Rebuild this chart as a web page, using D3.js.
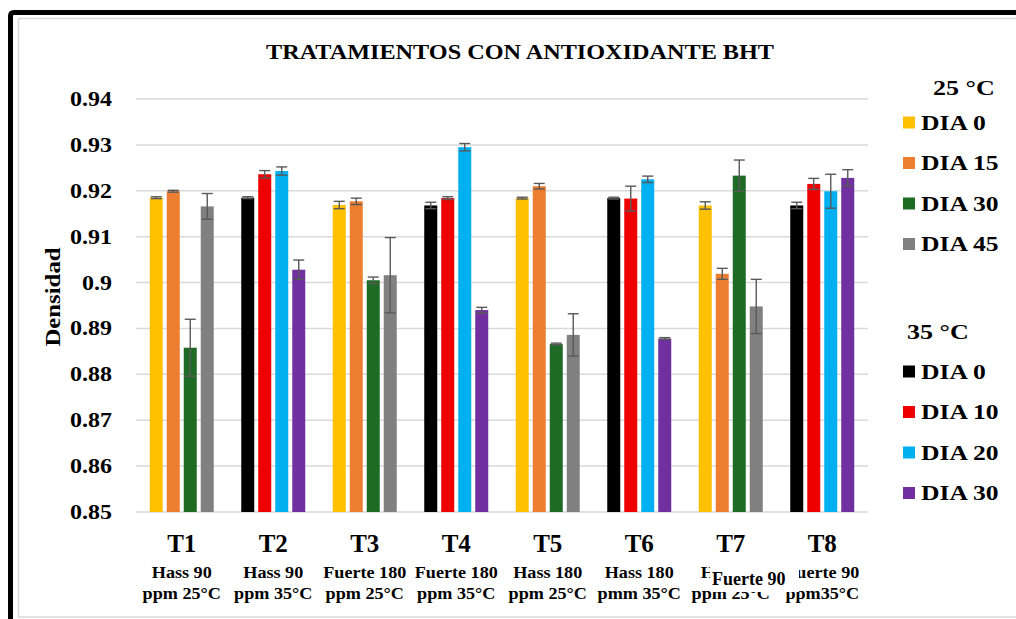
<!DOCTYPE html>
<html>
<head>
<meta charset="utf-8">
<script src="https://cdn.jsdelivr.net/npm/d3@7"></script>
<style>
  body { margin: 0; background: #fff; }
  svg text { font-family: "Liberation Serif", "Times New Roman", serif; font-weight: bold; fill: #000; }
</style>
</head>
<body>
<svg id="viz" width="1016" height="619"></svg>
<script>
// data
var categories = ["T1", "T2", "T3", "T4", "T5", "T6", "T7", "T8"];
var subLine1 = ["Hass 90", "Hass 90", "Fuerte 180", "Fuerte 180", "Hass 180", "Hass 180", "Hass 90", "Fuerte 90"];
var subLine2 = ["ppm 25\u00B0C", "ppm 35\u00B0C", "ppm 25\u00B0C", "ppm 35\u00B0C", "ppm 25\u00B0C", "pmm 35\u00B0C", "ppm 25\u00B0C", "ppm35\u00B0C"];
var temps = ["25", "35", "25", "35", "25", "35", "25", "35"];

var values = [
  [0.9185, 0.9199, 0.8858, 0.9166],
  [0.9185, 0.9236, 0.9243, 0.9028],
  [0.9169, 0.9177, 0.9005, 0.9016],
  [0.9168, 0.9184, 0.9295, 0.8940],
  [0.9184, 0.9210, 0.8866, 0.8886],
  [0.9184, 0.9183, 0.9225, 0.8878],
  [0.9168, 0.9019, 0.9233, 0.8948],
  [0.9168, 0.9215, 0.9199, 0.9228]
];
var errors = [
  [0.0002, 0.0002, 0.0062, 0.0028],
  [0.0002, 0.0008, 0.0009, 0.0021],
  [0.0008, 0.0007, 0.0007, 0.0082],
  [0.0007, 0.0003, 0.0008, 0.0006],
  [0.0002, 0.0006, 0.0002, 0.0046],
  [0.0002, 0.0027, 0.0007, 0.0002],
  [0.0008, 0.0012, 0.0034, 0.0059],
  [0.0007, 0.0012, 0.0037, 0.0018]
];

var legend25 = ["DIA 0", "DIA 15", "DIA 30", "DIA 45"];
var legend35 = ["DIA 0", "DIA 10", "DIA 20", "DIA 30"];
var colors25 = ["#FFC000", "#ED7D31", "#1D6B24", "#808080"];
var colors35 = ["#000000", "#EE0000", "#00B0F0", "#7030A0"];

var yTicks = [0.85, 0.86, 0.87, 0.88, 0.89, 0.9, 0.91, 0.92, 0.93, 0.94];
var yTickLabels = ["0.85", "0.86", "0.87", "0.88", "0.89", "0.9", "0.91", "0.92", "0.93", "0.94"];

var svg = d3.select("#viz");

// text stretched sideways like the source picture
function stretchText(parent, px, py, sx, size, anchor, txt) {
  return parent.append("text")
    .attr("transform", "translate(" + px + "," + py + ") scale(" + sx + ",1)")
    .attr("text-anchor", anchor)
    .style("font-size", size + "px")
    .text(txt);
}

// frame
svg.append("rect")
  .attr("x", 18.5).attr("y", 18.5)
  .attr("width", 1100).attr("height", 598.5)
  .attr("fill", "none").attr("stroke", "#d9d9d9").attr("stroke-width", 1.5);
svg.append("path")
  .attr("d", "M1020,12.5 L14,12.5 Q10.5,12.5 10.5,16 L10.5,625")
  .attr("fill", "none").attr("stroke", "#000").attr("stroke-width", 5);

var plot = { left: 136, right: 868, top: 99, bottom: 512 };

var x = d3.scaleBand().domain(categories).range([plot.left, plot.right]).padding(0);
var x1 = d3.scaleBand().domain([0, 1, 2, 3]).range([0, 64]).paddingInner(0.235).paddingOuter(0);
var groupOffset = (x.bandwidth() - 64) / 2;
var y = d3.scaleLinear().domain([0.85, 0.94]).range([plot.bottom, plot.top]);

// gridlines
svg.append("g")
  .selectAll("line")
  .data(yTicks)
  .enter()
  .append("line")
  .attr("x1", plot.left).attr("x2", plot.right)
  .attr("y1", function (d) { return y(d); })
  .attr("y2", function (d) { return y(d); })
  .attr("stroke", "#d9d9d9")
  .attr("stroke-width", 1.5);

// y axis labels
var yLab = svg.append("g");
yTicks.forEach(function (t, i) {
  stretchText(yLab, 112, y(t) + 7, 1.2, 20, "end", yTickLabels[i]);
});

stretchText(svg.append("g").attr("transform", "translate(60,297) rotate(-90)"), 0, 0, 1.18, 21, "middle", "Densidad");

// title
svg.append("text")
  .attr("x", 520).attr("y", 59)
  .attr("text-anchor", "middle")
  .attr("textLength", 508)
  .attr("lengthAdjust", "spacingAndGlyphs")
  .style("font-size", "22px")
  .text("TRATAMIENTOS CON ANTIOXIDANTE BHT");

// bars
var groups = svg.append("g")
  .selectAll("g")
  .data(categories)
  .enter()
  .append("g")
  .attr("transform", function (d) { return "translate(" + (x(d) + groupOffset) + ",0)"; });

groups.each(function (cat, ci) {
  var g = d3.select(this);
  var cols = temps[ci] === "25" ? colors25 : colors35;
  var rows = values[ci].map(function (v, j) { return { v: v, e: errors[ci][j], j: j }; });

  g.selectAll("rect")
    .data(rows)
    .enter()
    .append("rect")
    .attr("x", function (d) { return x1(d.j); })
    .attr("width", x1.bandwidth())
    .attr("y", function (d) { return y(d.v); })
    .attr("height", function (d) { return y(0.85) - y(d.v); })
    .attr("fill", function (d) { return cols[d.j]; });

  var eb = g.selectAll(".err")
    .data(rows)
    .enter()
    .append("g")
    .attr("class", "err")
    .attr("stroke", "#595959")
    .attr("stroke-width", 1.4);
  eb.append("line")
    .attr("x1", function (d) { return x1(d.j) + x1.bandwidth() / 2; })
    .attr("x2", function (d) { return x1(d.j) + x1.bandwidth() / 2; })
    .attr("y1", function (d) { return y(d.v + d.e); })
    .attr("y2", function (d) { return y(d.v - d.e); });
  [1, -1].forEach(function (s) {
    eb.append("line")
      .attr("x1", function (d) { return x1(d.j) + x1.bandwidth() / 2 - 5.5; })
      .attr("x2", function (d) { return x1(d.j) + x1.bandwidth() / 2 + 5.5; })
      .attr("y1", function (d) { return y(d.v + s * d.e); })
      .attr("y2", function (d) { return y(d.v + s * d.e); });
  });
});

// category labels
var labels = svg.append("g");
categories.forEach(function (c, i) {
  var cx = x(c) + x.bandwidth() / 2;
  stretchText(labels, cx, 552, 1.0, 25, "middle", c);
  stretchText(labels, cx, 578, 1.1, 16.5, "middle", subLine1[i]);
  stretchText(labels, cx, 599, 1.1, 16.5, "middle", subLine2[i]);
});

// pasted-over text box
svg.append("rect")
  .attr("x", 710).attr("y", 566).attr("width", 89).attr("height", 26)
  .attr("fill", "#fff");
stretchText(svg, 712, 585, 1.0, 18, "start", "Fuerte 90");

// legend
var leg = svg.append("g");
stretchText(leg, 933, 95, 1.3, 20, "start", "25 \u00B0C");
stretchText(leg, 907, 339, 1.3, 20, "start", "35 \u00B0C");

function legendBlock(labelsArr, cols, y0) {
  labelsArr.forEach(function (d, i) {
    var ry = y0 + i * 40.5;
    leg.append("rect")
      .attr("x", 903).attr("y", ry - 6).attr("width", 12).attr("height", 12)
      .attr("fill", cols[i]);
    stretchText(leg, 921, ry + 7, 1.28, 20, "start", d);
  });
}
legendBlock(legend25, colors25, 122.5);
legendBlock(legend35, colors35, 371.5);
</script>
</body>
</html>
